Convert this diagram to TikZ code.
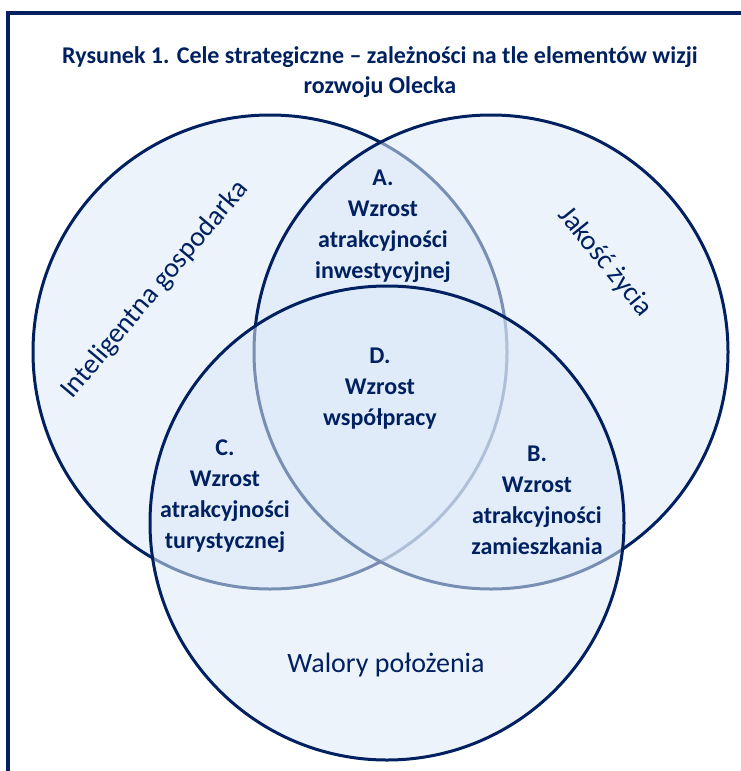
\documentclass[tikz,border=0pt]{standalone}
\usepackage{fontspec}
\setmainfont{Carlito}
\usepackage{xcolor}
\usepackage{tikz}

\definecolor{navy}{RGB}{0,32,96}
\definecolor{vennfill}{RGB}{220,233,247}

\tikzset{
  venn/.style={circle, draw=navy, line width=3pt, fill=vennfill,
    fill opacity=0.55, minimum size=474pt, inner sep=0pt},
  goal/.style={align=center, text=navy,
    font=\bfseries\fontsize{24}{31}\selectfont},
  area/.style={text=navy, font=\fontsize{28}{32}\selectfont}
}

\begin{document}
\begin{tikzpicture}[x=1pt, y=-1pt]
  \useasboundingbox (0,0) rectangle (741,771);

  % Frame of the figure
  \draw[navy, line width=3.5pt] (741,13) -- (8,13) -- (8,771);

  % Title
  \node[goal, font=\bfseries\fontsize{24}{30}\selectfont] (title) at (380,72)
    {Rysunek 1. Cele strategiczne -- zależności na tle elementów wizji\\rozwoju Olecka};

  % Three circles of the vision
  \node[venn] (gosp) at (270,352) {};
  \node[venn] (zycie) at (491,352) {};
  \node[venn] (polo) at (387,523) {};

  % Names of the circles
  \node[area, rotate=50] (lgosp) at (155,290) {Inteligentna gospodarka};
  \node[area, rotate=-51] (lzycie) at (605,262) {Jakość życia};
  \node[area] (lpolo) at (386,665) {Walory położenia};

  % Strategic goals in the overlaps
  \node[goal] (goalA) at (383,226) {A.\\Wzrost\\atrakcyjności\\inwestycyjnej};
  \node[goal] (goalD) at (380,389) {D.\\Wzrost\\współpracy};
  \node[goal] (goalC) at (225,496) {C.\\Wzrost\\atrakcyjności\\turystycznej};
  \node[goal] (goalB) at (537,500) {B.\\Wzrost\\atrakcyjności\\zamieszkania};
\end{tikzpicture}
\end{document}
